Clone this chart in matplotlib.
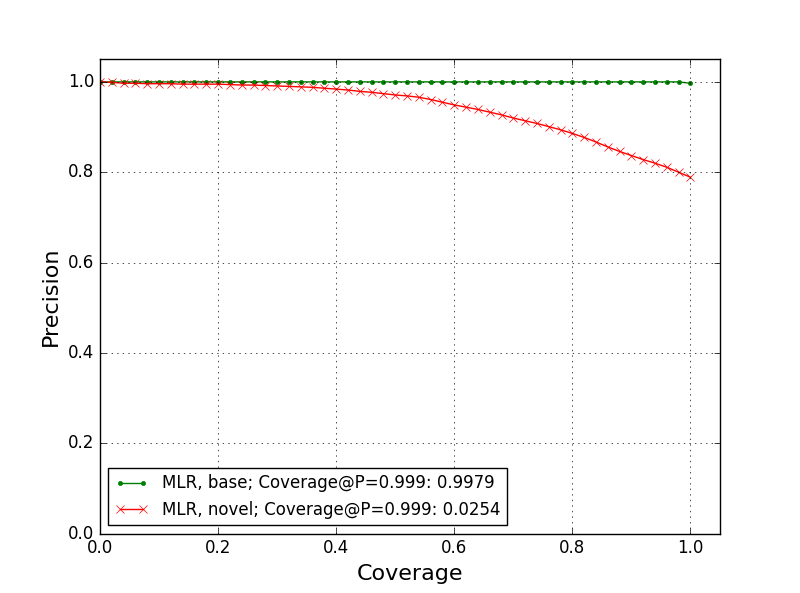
import matplotlib
matplotlib.use("Agg")
import matplotlib.pyplot as plt
import numpy as np

coverage = [round(0.02 * i, 2) for i in range(51)]
base_precision = [1.0] * 50 + [0.997]
novel_precision = [
    1.000, 0.999, 0.997, 0.997, 0.996, 0.996, 0.996, 0.995, 0.995, 0.995,
    0.995, 0.994, 0.993, 0.993, 0.992, 0.991, 0.990, 0.989, 0.988, 0.986,
    0.984, 0.982, 0.979, 0.977, 0.974, 0.971, 0.969, 0.966, 0.961, 0.955,
    0.949, 0.944, 0.939, 0.933, 0.927, 0.920, 0.914, 0.908, 0.901, 0.894,
    0.886, 0.877, 0.867, 0.856, 0.846, 0.837, 0.828, 0.820, 0.811, 0.800,
    0.789,
]
labels = ["MLR, base; Coverage@P=0.999: 0.9979",
          "MLR, novel; Coverage@P=0.999: 0.0254"]

plt.style.use('classic')
plt.rcParams['font.family'] = ['DejaVu Sans']
fig = plt.figure(figsize=(8, 5.93), dpi=100, facecolor='white')
ax = fig.add_subplot(111)
fig.subplots_adjust(left=0.125, right=0.9, bottom=0.1, top=0.9)
ax.plot(coverage, base_precision, '.-', color='green', label=labels[0])
ax.plot(coverage, novel_precision, 'x-', color='red', label=labels[1])
ax.set_xlim(0, 1.05)
ax.set_ylim(0, 1.05)
ax.set_xlabel('Coverage', fontsize=16)
ax.set_ylabel('Precision', fontsize=16)
ax.grid(True)
ax.legend(loc='lower left', fontsize=12)
fig.savefig('out.png', dpi=100, facecolor='white')
